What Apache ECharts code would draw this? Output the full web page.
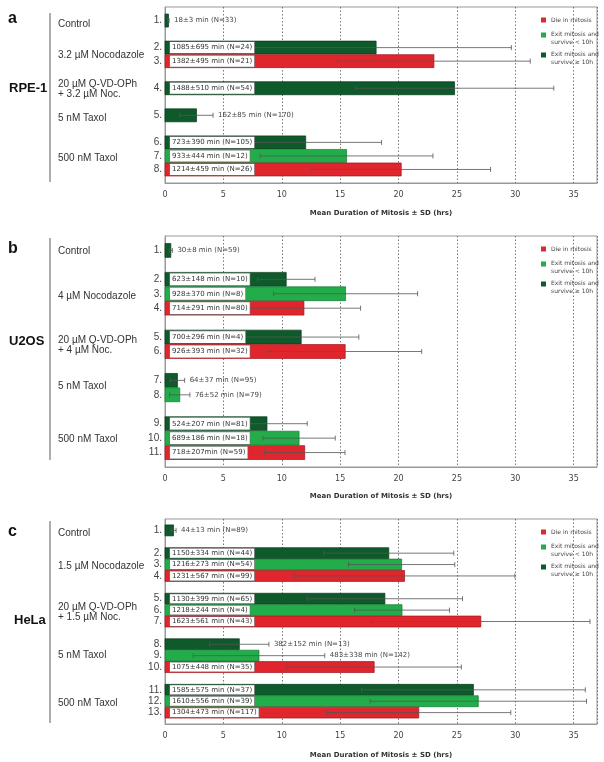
<!DOCTYPE html>
<html><head><meta charset="utf-8">
<script src="https://cdn.jsdelivr.net/npm/echarts@6/dist/echarts.min.js"></script>
<style>html,body{margin:0;padding:0;background:#fff}#c{width:604px;height:762px}</style>
</head><body><div id="c"></div><script>
// ---------- data ----------
const xTicks = [0, 5, 10, 15, 20, 25, 30, 35];
const fateNames = ['Die in mitosis', 'Exit mitosis and\nsurvive < 10h', 'Exit mitosis and\nsurvive \u2265 10h'];

// Panel a: RPE-1
const aSlot = [0, 2, 3, 5, 7, 9, 10, 11];
const aMin  = [18, 1085, 1382, 1488, 162, 723, 933, 1214];
const aSd   = [3, 695, 495, 510, 85, 390, 444, 459];
const aN    = [33, 24, 21, 54, 170, 105, 12, 26];
const aFate = [2, 2, 0, 2, 2, 2, 1, 0];
const aIn   = [0, 1, 1, 1, 0, 1, 1, 1];
const aUnit = [' min', ' min', ' min', ' min', ' min', ' min', ' min', ' min'];

// Panel b: U2OS
const bSlot = [0, 2, 3, 4, 6, 7, 9, 10, 12, 13, 14];
const bMin  = [30, 623, 928, 714, 700, 926, 64, 76, 524, 689, 718];
const bSd   = [8, 148, 370, 291, 296, 393, 37, 52, 207, 186, 207];
const bN    = [59, 10, 8, 80, 4, 32, 95, 79, 81, 18, 59];
const bFate = [2, 2, 1, 0, 2, 0, 2, 1, 2, 1, 0];
const bIn   = [0, 1, 1, 1, 1, 1, 0, 0, 1, 1, 1];
const bUnit = [' min', ' min', ' min', ' min', ' min', ' min', ' min', ' min', ' min', ' min', 'min'];

// Panel c: HeLa
const cSlot = [0, 2, 3, 4, 6, 7, 8, 10, 11, 12, 14, 15, 16];
const cMin  = [44, 1150, 1216, 1231, 1130, 1218, 1623, 382, 483, 1075, 1585, 1610, 1304];
const cSd   = [13, 334, 273, 567, 399, 244, 561, 152, 338, 448, 575, 556, 473];
const cN    = [89, 44, 54, 99, 65, 4, 43, 13, 142, 35, 37, 39, 117];
const cFate = [2, 2, 1, 0, 2, 1, 0, 2, 1, 0, 2, 1, 0];
const cIn   = [0, 1, 1, 1, 1, 1, 1, 0, 0, 1, 1, 1, 1];
const cUnit = [' min', ' min', ' min', ' min', ' min', ' min', ' min', ' min', ' min', ' min', ' min', ' min', ' min'];

// ---------- styling ----------
const fateColors = ['#e1252c', '#22ad4a', '#0e5a2b'];
const fateStroke = ['#9e161c', '#137a33', '#073a1a'];
const FONT_V = '"DejaVu Sans", Verdana, sans-serif';
const FONT_A = '"Liberation Sans", Arial, sans-serif';

const panels = [
  {top: 7,   height: 176, slotMax: 12, nameGap: 27, slot: aSlot, min: aMin, sd: aSd, n: aN, fate: aFate, inside: aIn, unit: aUnit},
  {top: 236, height: 231, slotMax: 15, nameGap: 26, slot: bSlot, min: bMin, sd: bSd, n: bN, fate: bFate, inside: bIn, unit: bUnit},
  {top: 519, height: 205, slotMax: 17, nameGap: 28, slot: cSlot, min: cMin, sd: cSd, n: cN, fate: cFate, inside: cIn, unit: cUnit}
];

function makeRender(rows, fate) {
  return function (params, api) {
    const r = rows[params.dataIndex];
    const y = r.slot;
    const p0 = api.coord([0, y]);
    const p1 = api.coord([r.h, y]);
    const slotH = api.size([0, 1])[1];
    const bh = slotH * 0.96;
    const lo = api.coord([Math.max(0, r.h - r.s), y]);
    const hi = api.coord([r.h + r.s, y]);
    const cy = p0[1];
    const cap = 2.5;
    const children = [
      {type: 'rect', shape: {x: p0[0], y: cy - bh / 2, width: p1[0] - p0[0], height: bh},
       style: {fill: fateColors[fate], stroke: fateStroke[fate], lineWidth: 0.7}},
      {type: 'line', shape: {x1: lo[0], y1: cy, x2: hi[0], y2: cy}, style: {stroke: '#555', lineWidth: 0.8}},
      {type: 'line', shape: {x1: lo[0], y1: cy - cap, x2: lo[0], y2: cy + cap}, style: {stroke: '#555', lineWidth: 0.8}},
      {type: 'line', shape: {x1: hi[0], y1: cy - cap, x2: hi[0], y2: cy + cap}, style: {stroke: '#555', lineWidth: 0.8}}
    ];
    if (r.inside) {
      const pv = Math.max(0.5, (bh - 2 - 7) / 2);
      children.push({type: 'text', x: p0[0] + 5, y: cy,
        style: {text: r.label, fontSize: 7, fontFamily: FONT_V, fill: '#333', align: 'left', verticalAlign: 'middle',
                lineHeight: 7, backgroundColor: '#fff', borderColor: '#777', borderWidth: 0.6, padding: [pv, 2, pv, 2]}});
    } else {
      children.push({type: 'text', x: hi[0] + 5, y: cy,
        style: {text: r.label, fontSize: 7, fontFamily: FONT_V, fill: '#444', align: 'left', verticalAlign: 'middle'}});
    }
    return {type: 'group', children: children};
  };
}

const grids = [], xAxes = [], yAxes = [], series = [], legends = [];
const ICON_MID = 'path://M0,7h10v10h-10z M0,0h0.01v0.01h-0.01z M0,23.99h0.01v0.01h-0.01z';
const ICON_TOP = 'path://M0,0h10v10h-10z M0,23.99h0.01v0.01h-0.01z';

panels.forEach((p, i) => {
  grids.push({left: 165, right: 7, top: p.top, height: p.height, show: true, borderColor: '#999', borderWidth: 1, containLabel: false});
  xAxes.push({
    gridIndex: i, type: 'value', min: xTicks[0], max: 37, interval: 5,
    name: 'Mean Duration of Mitosis \u00b1 SD (hrs)', nameLocation: 'middle', nameGap: p.nameGap,
    nameTextStyle: {fontFamily: FONT_V, fontWeight: 'bold', fontSize: 7, color: '#333'},
    axisLine: {show: true, onZero: false, lineStyle: {color: '#999'}},
    axisTick: {show: false},
    axisLabel: {fontFamily: FONT_V, fontSize: 8, color: '#444', margin: 8,
      formatter: v => (xTicks.indexOf(v) >= 0 ? String(v) : '')},
    splitLine: {show: true, lineStyle: {color: '#555', width: 0.8, type: [1.5, 2]}}
  });
  yAxes.push({
    gridIndex: i, type: 'value', inverse: true, min: -1, max: p.slotMax, interval: 1,
    splitLine: {show: false}, axisTick: {show: false},
    axisLine: {show: true, onZero: false, lineStyle: {color: '#999'}},
    axisLabel: {fontFamily: FONT_A, fontSize: 10, color: '#444', margin: 3, padding: [5, 0, 0, 0],
      formatter: v => { const k = p.slot.indexOf(v); return k < 0 ? '' : (k + 1) + '.'; }}
  });
  [2, 1, 0].forEach(f => {
    const rows = [];
    p.min.forEach((m, k) => {
      if (p.fate[k] !== f) return;
      rows.push({slot: p.slot[k], h: m / 60, s: p.sd[k] / 60, inside: p.inside[k],
                 label: m + '\u00b1' + p.sd[k] + p.unit[k] + ' (N=' + p.n[k] + ')'});
    });
    series.push({
      type: 'custom', name: fateNames[f], xAxisIndex: i, yAxisIndex: i,
      itemStyle: {color: fateColors[f]},
      renderItem: makeRender(rows, f),
      encode: {x: 0, y: 1},
      data: rows.map(r => [r.h, r.slot]),
      silent: true
    });
  });
  legends.push({
    left: 536, top: p.top + 2, orient: 'vertical', itemWidth: 5, itemHeight: 12, itemGap: 5,
    selectedMode: false,
    textStyle: {fontFamily: FONT_V, fontSize: 6, color: '#444', lineHeight: 7.5, width: 60, overflow: 'none'},
    data: [{name: fateNames[0], icon: ICON_MID}, {name: fateNames[1], icon: ICON_TOP}, {name: fateNames[2], icon: ICON_TOP}]
  });
});

// left-side labels
const panelLetters = ['a', 'b', 'c'];
const cellLines = ['RPE-1', 'U2OS', 'HeLa'];
const treatments = [
  ['Control', '3.2 \u00b5M Nocodazole', '20 \u00b5M Q-VD-OPh\n+ 3.2 \u00b5M Noc.', '5 nM Taxol', '500 nM Taxol'],
  ['Control', '4 \u00b5M Nocodazole', '20 \u00b5M Q-VD-OPh\n+ 4 \u00b5M Noc.', '5 nM Taxol', '500 nM Taxol'],
  ['Control', '1.5 \u00b5M Nocodazole', '20 \u00b5M Q-VD-OPh\n+ 1.5 \u00b5M Noc.', '5 nM Taxol', '500 nM Taxol']
];
const letterY = [20, 250, 533];
const cellY = [90, 343, 622];
const cellX = [9, 9, 14];
const lineY = [[13, 182], [238, 460], [521, 723]];
const treatY = [[24, 55, 89, 118, 158], [251, 296, 345, 386, 439], [533, 566, 612, 655, 703]];

const graphics = [];
panelLetters.forEach((t, i) => {
  graphics.push({type: 'text', left: 8, top: letterY[i] - 9,
    style: {text: t, fontFamily: FONT_A, fontWeight: 'bold', fontSize: 16, fill: '#111'}});
  graphics.push({type: 'text', left: cellX[i], top: cellY[i] - 8,
    style: {text: cellLines[i], fontFamily: FONT_A, fontWeight: 'bold', fontSize: 13, fill: '#111'}});
  graphics.push({type: 'line', shape: {x1: 50, y1: lineY[i][0], x2: 50, y2: lineY[i][1]},
    style: {stroke: '#777', lineWidth: 1.2}});
  treatments[i].forEach((tt, k) => {
    graphics.push({type: 'text', x: 58, y: treatY[i][k],
      style: {text: tt, fontFamily: FONT_A, fontSize: 10, fill: '#333', verticalAlign: 'middle', lineHeight: 10}});
  });
});

const chart = echarts.init(document.getElementById('c'), null, {renderer: 'canvas'});
chart.setOption({
  animation: false,
  backgroundColor: '#fff',
  grid: grids, xAxis: xAxes, yAxis: yAxes, series: series, legend: legends,
  graphic: graphics
});
</script></body></html>
